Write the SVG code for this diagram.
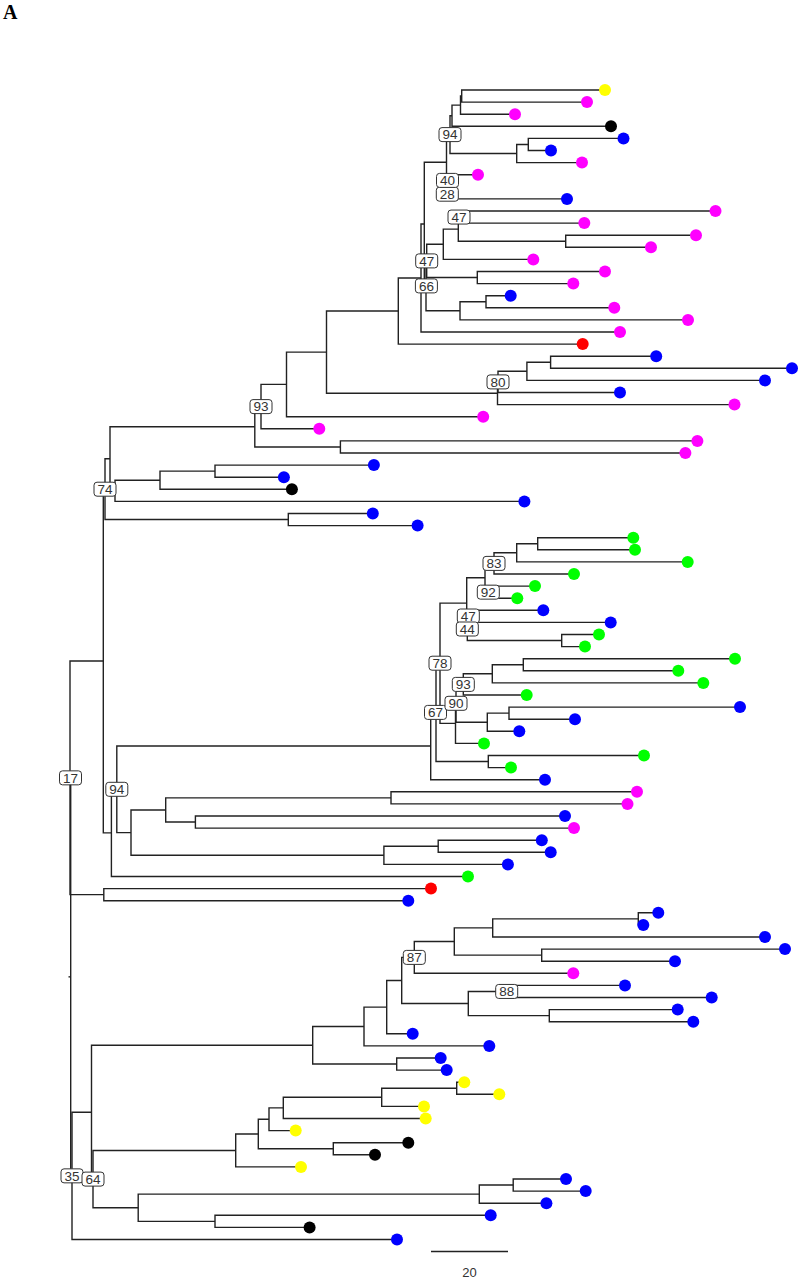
<svg xmlns="http://www.w3.org/2000/svg" width="801" height="1280" viewBox="0 0 801 1280">
<style>
.e{fill:none;stroke:#222;stroke-width:1.4}
.y{fill:#ffff00}.m{fill:#ff00ff}.b{fill:#0000ff}.k{fill:#000}.r{fill:#ff0000}.g{fill:#00ff00}
.lb rect{fill:#fff;stroke:#333;stroke-width:1}
.lb text{font-family:"Liberation Sans",Arial,sans-serif;font-size:13.5px;fill:#333;text-anchor:middle}
</style>
<rect width="801" height="1280" fill="#fff"/>
<text x="3" y="19" font-family="Liberation Serif,serif" font-weight="bold" font-size="20">A</text>
<g id="connectors" class="e">
<path d="M605 90H461.7V102.1H587"/>
<path d="M461.7 96.05H460.5V114.2H515"/>
<path d="M460.5 105.1H452V126.3H611"/>
<path d="M623.5 138.4H528.3V150.5H551"/>
<path d="M528.3 144.45H516.7V162.6H582"/>
<path d="M452 115.7H450V153.5H516.7"/>
<path d="M478 174.7H447.8V186.8"/>
<path d="M447.8 180.75H447.3V198.9H567"/>
<path d="M450 134.6H446.5V189.8H447.3"/>
<path d="M715.5 211H459V223.1H584.3"/>
<path d="M696 235.2H565.7V247.3H651"/>
<path d="M459 217.05H458.3V241.25H565.7"/>
<path d="M458.3 229.15H443.3V259.4H533.3"/>
<path d="M605 271.5H477.3V283.6H573.3"/>
<path d="M443.3 244.3H426.7V277.55H477.3"/>
<path d="M510.7 295.7H486V307.8H614.3"/>
<path d="M486 301.75H460V319.9H688"/>
<path d="M426.7 260.9H426V310.8H460"/>
<path d="M446.5 162.2H424.3V285.85H426"/>
<path d="M424.3 224H421V332H620"/>
<path d="M421 278H398.3V344.1H582.7"/>
<path d="M656.2 356.2H550.6V368.3H792"/>
<path d="M550.6 362.25H526.9V380.4H765"/>
<path d="M526.9 371.3H498V392.5H620"/>
<path d="M498 381.9H497.5V404.6H734.5"/>
<path d="M398.3 311.05H326.5V393.25H497.5"/>
<path d="M326.5 352.15H286.5V416.7H483.2"/>
<path d="M286.5 384.4H261V428.8H319.3"/>
<path d="M697.4 440.9H340.4V453H685.4"/>
<path d="M261 406.6H254.8V446.95H340.4"/>
<path d="M373.9 465.1H215V477.2H283.9"/>
<path d="M215 471.15H160V489.3H291.9"/>
<path d="M160 480.2H115V501.4H524.4"/>
<path d="M254.8 426.8H110V490.8H115"/>
<path d="M372.8 513.5H288.3V525.6H417.6"/>
<path d="M110 458.8H105V519.55H288.3"/>
<path d="M633.3 537.7H537.7V549.8H635"/>
<path d="M537.7 543.75H516.7V561.9H687.7"/>
<path d="M516.7 552.8H494V574H574"/>
<path d="M535 586.1H488.3V598.2H517.3"/>
<path d="M494 563.4H485V592.15H488.3"/>
<path d="M543.3 610.3H468.3V622.4H610.7"/>
<path d="M599 634.5H561.7V646.6H585"/>
<path d="M468.3 616.35H467.3V640.55H561.7"/>
<path d="M485 577.8H466.7V628.45H467.3"/>
<path d="M735 658.7H523.3V670.8H678.3"/>
<path d="M523.3 664.75H492.3V682.9H703.3"/>
<path d="M492.3 673.8H463.3V695H526.7"/>
<path d="M740 707.1H509V719.2H575"/>
<path d="M509 713.15H487.3V731.3H519.3"/>
<path d="M463.3 684.4H456V722.2H487.3"/>
<path d="M456 703.3H455.5V743.4H484"/>
<path d="M466.7 603.1H440V723.35H455.5"/>
<path d="M644 755.5H488.3V767.6H511"/>
<path d="M440 663.2H436V761.55H488.3"/>
<path d="M436 712.4H430.7V779.7H545"/>
<path d="M637 791.8H391V803.9H627.5"/>
<path d="M565 816H195.4V828.1H574"/>
<path d="M391 797.85H165.7V822.05H195.4"/>
<path d="M541.8 840.2H438.2V852.3H550.7"/>
<path d="M438.2 846.25H383.9V864.4H507.9"/>
<path d="M165.7 809.95H131V855.3H383.9"/>
<path d="M430.7 746.05H116.8V832.6H131"/>
<path d="M116.8 789.3H111.4V876.5H468"/>
<path d="M105 489.2H103.3V832.9H111.4"/>
<path d="M431 888.6H103.8V900.7H408.3"/>
<path d="M103.3 661.05H70V894.65H103.8"/>
<path d="M658.3 912.8H638.3V924.9H643.3"/>
<path d="M638.3 918.85H492.7V937H765"/>
<path d="M785 949.1H541.7V961.2H675"/>
<path d="M492.7 927.9H454.3V955.15H541.7"/>
<path d="M454.3 941.5H414.3V973.3H573.3"/>
<path d="M625 985.4H506.7V997.5H711.7"/>
<path d="M677.7 1009.6H549.3V1021.7H693.3"/>
<path d="M506.7 991.45H468.3V1015.65H549.3"/>
<path d="M414.3 957.4H401.7V1003.55H468.3"/>
<path d="M401.7 980.5H386.7V1033.8H412.7"/>
<path d="M386.7 1007.15H364V1045.9H489.3"/>
<path d="M440.7 1058H396.7V1070.1H446.7"/>
<path d="M364 1026.5H312.7V1064.05H396.7"/>
<path d="M464.3 1082.2H456.7V1094.3H499.3"/>
<path d="M456.7 1088.25H381.7V1106.4H424"/>
<path d="M381.7 1097.3H283.3V1118.5H425.7"/>
<path d="M283.3 1107.9H269V1130.6H295.7"/>
<path d="M408.3 1142.7H333.3V1154.8H375"/>
<path d="M269 1119.25H258.3V1148.75H333.3"/>
<path d="M258.3 1134H235.7V1166.9H301"/>
<path d="M566 1179H513.2V1191.1H585.7"/>
<path d="M513.2 1185.05H479.3V1203.2H546.4"/>
<path d="M490.7 1215.3H215V1227.4H309.6"/>
<path d="M479.3 1194.1H138.2V1221.35H215"/>
<path d="M235.7 1150.45H93V1207.7H138.2"/>
<path d="M312.7 1045.3H91.5V1179.1H93"/>
<path d="M91.5 1112.2H72V1239.5H397"/>
<path d="M70 777.85H70.7V1175.85H72"/>
<path d="M68.5 976.85H70.7"/>
</g>
<g id="tips">
<circle id="t0" class="y" cx="605" cy="90" r="6"/>
<circle id="t1" class="m" cx="587" cy="102.1" r="6"/>
<circle id="t2" class="m" cx="515" cy="114.2" r="6"/>
<circle id="t3" class="k" cx="611" cy="126.3" r="6"/>
<circle id="t4" class="b" cx="623.5" cy="138.4" r="6"/>
<circle id="t5" class="b" cx="551" cy="150.5" r="6"/>
<circle id="t6" class="m" cx="582" cy="162.6" r="6"/>
<circle id="t7" class="m" cx="478" cy="174.7" r="6"/>
<circle id="t9" class="b" cx="567" cy="198.9" r="6"/>
<circle id="t10" class="m" cx="715.5" cy="211" r="6"/>
<circle id="t11" class="m" cx="584.3" cy="223.1" r="6"/>
<circle id="t12" class="m" cx="696" cy="235.2" r="6"/>
<circle id="t13" class="m" cx="651" cy="247.3" r="6"/>
<circle id="t14" class="m" cx="533.3" cy="259.4" r="6"/>
<circle id="t15" class="m" cx="605" cy="271.5" r="6"/>
<circle id="t16" class="m" cx="573.3" cy="283.6" r="6"/>
<circle id="t17" class="b" cx="510.7" cy="295.7" r="6"/>
<circle id="t18" class="m" cx="614.3" cy="307.8" r="6"/>
<circle id="t19" class="m" cx="688" cy="319.9" r="6"/>
<circle id="t20" class="m" cx="620" cy="332" r="6"/>
<circle id="t21" class="r" cx="582.7" cy="344.1" r="6"/>
<circle id="t22" class="b" cx="656.2" cy="356.2" r="6"/>
<circle id="t23" class="b" cx="792" cy="368.3" r="6"/>
<circle id="t24" class="b" cx="765" cy="380.4" r="6"/>
<circle id="t25" class="b" cx="620" cy="392.5" r="6"/>
<circle id="t26" class="m" cx="734.5" cy="404.6" r="6"/>
<circle id="t27" class="m" cx="483.2" cy="416.7" r="6"/>
<circle id="t28" class="m" cx="319.3" cy="428.8" r="6"/>
<circle id="t29" class="m" cx="697.4" cy="440.9" r="6"/>
<circle id="t30" class="m" cx="685.4" cy="453" r="6"/>
<circle id="t31" class="b" cx="373.9" cy="465.1" r="6"/>
<circle id="t32" class="b" cx="283.9" cy="477.2" r="6"/>
<circle id="t33" class="k" cx="291.9" cy="489.3" r="6"/>
<circle id="t34" class="b" cx="524.4" cy="501.4" r="6"/>
<circle id="t35" class="b" cx="372.8" cy="513.5" r="6"/>
<circle id="t36" class="b" cx="417.6" cy="525.6" r="6"/>
<circle id="t37" class="g" cx="633.3" cy="537.7" r="6"/>
<circle id="t38" class="g" cx="635" cy="549.8" r="6"/>
<circle id="t39" class="g" cx="687.7" cy="561.9" r="6"/>
<circle id="t40" class="g" cx="574" cy="574" r="6"/>
<circle id="t41" class="g" cx="535" cy="586.1" r="6"/>
<circle id="t42" class="g" cx="517.3" cy="598.2" r="6"/>
<circle id="t43" class="b" cx="543.3" cy="610.3" r="6"/>
<circle id="t44" class="b" cx="610.7" cy="622.4" r="6"/>
<circle id="t45" class="g" cx="599" cy="634.5" r="6"/>
<circle id="t46" class="g" cx="585" cy="646.6" r="6"/>
<circle id="t47" class="g" cx="735" cy="658.7" r="6"/>
<circle id="t48" class="g" cx="678.3" cy="670.8" r="6"/>
<circle id="t49" class="g" cx="703.3" cy="682.9" r="6"/>
<circle id="t50" class="g" cx="526.7" cy="695" r="6"/>
<circle id="t51" class="b" cx="740" cy="707.1" r="6"/>
<circle id="t52" class="b" cx="575" cy="719.2" r="6"/>
<circle id="t53" class="b" cx="519.3" cy="731.3" r="6"/>
<circle id="t54" class="g" cx="484" cy="743.4" r="6"/>
<circle id="t55" class="g" cx="644" cy="755.5" r="6"/>
<circle id="t56" class="g" cx="511" cy="767.6" r="6"/>
<circle id="t57" class="b" cx="545" cy="779.7" r="6"/>
<circle id="t58" class="m" cx="637" cy="791.8" r="6"/>
<circle id="t59" class="m" cx="627.5" cy="803.9" r="6"/>
<circle id="t60" class="b" cx="565" cy="816" r="6"/>
<circle id="t61" class="m" cx="574" cy="828.1" r="6"/>
<circle id="t62" class="b" cx="541.8" cy="840.2" r="6"/>
<circle id="t63" class="b" cx="550.7" cy="852.3" r="6"/>
<circle id="t64" class="b" cx="507.9" cy="864.4" r="6"/>
<circle id="t65" class="g" cx="468" cy="876.5" r="6"/>
<circle id="t66" class="r" cx="431" cy="888.6" r="6"/>
<circle id="t67" class="b" cx="408.3" cy="900.7" r="6"/>
<circle id="t68" class="b" cx="658.3" cy="912.8" r="6"/>
<circle id="t69" class="b" cx="643.3" cy="924.9" r="6"/>
<circle id="t70" class="b" cx="765" cy="937" r="6"/>
<circle id="t71" class="b" cx="785" cy="949.1" r="6"/>
<circle id="t72" class="b" cx="675" cy="961.2" r="6"/>
<circle id="t73" class="m" cx="573.3" cy="973.3" r="6"/>
<circle id="t74" class="b" cx="625" cy="985.4" r="6"/>
<circle id="t75" class="b" cx="711.7" cy="997.5" r="6"/>
<circle id="t76" class="b" cx="677.7" cy="1009.6" r="6"/>
<circle id="t77" class="b" cx="693.3" cy="1021.7" r="6"/>
<circle id="t78" class="b" cx="412.7" cy="1033.8" r="6"/>
<circle id="t79" class="b" cx="489.3" cy="1045.9" r="6"/>
<circle id="t80" class="b" cx="440.7" cy="1058" r="6"/>
<circle id="t81" class="b" cx="446.7" cy="1070.1" r="6"/>
<circle id="t82" class="y" cx="464.3" cy="1082.2" r="6"/>
<circle id="t83" class="y" cx="499.3" cy="1094.3" r="6"/>
<circle id="t84" class="y" cx="424" cy="1106.4" r="6"/>
<circle id="t85" class="y" cx="425.7" cy="1118.5" r="6"/>
<circle id="t86" class="y" cx="295.7" cy="1130.6" r="6"/>
<circle id="t87" class="k" cx="408.3" cy="1142.7" r="6"/>
<circle id="t88" class="k" cx="375" cy="1154.8" r="6"/>
<circle id="t89" class="y" cx="301" cy="1166.9" r="6"/>
<circle id="t90" class="b" cx="566" cy="1179" r="6"/>
<circle id="t91" class="b" cx="585.7" cy="1191.1" r="6"/>
<circle id="t92" class="b" cx="546.4" cy="1203.2" r="6"/>
<circle id="t93" class="b" cx="490.7" cy="1215.3" r="6"/>
<circle id="t94" class="k" cx="309.6" cy="1227.4" r="6"/>
<circle id="t95" class="b" cx="397" cy="1239.5" r="6"/>
</g>
<g id="n94a" class="lb" transform="translate(450 134.6)"><rect x="-11" y="-7" width="22" height="14" rx="3"/><text y="4.8">94</text></g>
<g id="n28" class="lb" transform="translate(447.3 194.2)"><rect x="-11" y="-7" width="22" height="14" rx="3"/><text y="4.8">28</text></g>
<g id="n40" class="lb" transform="translate(447.5 180.4)"><rect x="-11" y="-7" width="22" height="14" rx="3"/><text y="4.8">40</text></g>
<g id="n47a" class="lb" transform="translate(459 217.05)"><rect x="-11" y="-7" width="22" height="14" rx="3"/><text y="4.8">47</text></g>
<g id="n47b" class="lb" transform="translate(426.7 260.9)"><rect x="-11" y="-7" width="22" height="14" rx="3"/><text y="4.8">47</text></g>
<g id="n66" class="lb" transform="translate(426.4 285.9)"><rect x="-11" y="-7" width="22" height="14" rx="3"/><text y="4.8">66</text></g>
<g id="n80" class="lb" transform="translate(498 381.9)"><rect x="-11" y="-7" width="22" height="14" rx="3"/><text y="4.8">80</text></g>
<g id="n93a" class="lb" transform="translate(261 406.6)"><rect x="-11" y="-7" width="22" height="14" rx="3"/><text y="4.8">93</text></g>
<g id="n74" class="lb" transform="translate(105 489.2)"><rect x="-11" y="-7" width="22" height="14" rx="3"/><text y="4.8">74</text></g>
<g id="n83" class="lb" transform="translate(494 563.4)"><rect x="-11" y="-7" width="22" height="14" rx="3"/><text y="4.8">83</text></g>
<g id="n92" class="lb" transform="translate(488.3 592.15)"><rect x="-11" y="-7" width="22" height="14" rx="3"/><text y="4.8">92</text></g>
<g id="n47c" class="lb" transform="translate(468.3 616)"><rect x="-11" y="-7" width="22" height="14" rx="3"/><text y="4.8">47</text></g>
<g id="n44" class="lb" transform="translate(467.3 629)"><rect x="-11" y="-7" width="22" height="14" rx="3"/><text y="4.8">44</text></g>
<g id="n78" class="lb" transform="translate(440 663.2)"><rect x="-11" y="-7" width="22" height="14" rx="3"/><text y="4.8">78</text></g>
<g id="n93b" class="lb" transform="translate(463.3 684.4)"><rect x="-11" y="-7" width="22" height="14" rx="3"/><text y="4.8">93</text></g>
<g id="n67" class="lb" transform="translate(435.5 712.4)"><rect x="-11" y="-7" width="22" height="14" rx="3"/><text y="4.8">67</text></g>
<g id="n90" class="lb" transform="translate(456 703.3)"><rect x="-11" y="-7" width="22" height="14" rx="3"/><text y="4.8">90</text></g>
<g id="n94b" class="lb" transform="translate(116.8 789.3)"><rect x="-11" y="-7" width="22" height="14" rx="3"/><text y="4.8">94</text></g>
<g id="n17" class="lb" transform="translate(70.5 777.85)"><rect x="-11" y="-7" width="22" height="14" rx="3"/><text y="4.8">17</text></g>
<g id="n87" class="lb" transform="translate(414.3 957.4)"><rect x="-11" y="-7" width="22" height="14" rx="3"/><text y="4.8">87</text></g>
<g id="n88" class="lb" transform="translate(506.7 991.45)"><rect x="-11" y="-7" width="22" height="14" rx="3"/><text y="4.8">88</text></g>
<g id="n35" class="lb" transform="translate(72 1175.85)"><rect x="-11" y="-7" width="22" height="14" rx="3"/><text y="4.8">35</text></g>
<g id="n64" class="lb" transform="translate(93 1179.1)"><rect x="-11" y="-7" width="22" height="14" rx="3"/><text y="4.8">64</text></g>
<g id="scalebar">
<path class="e" d="M431 1251.5H508"/>
<text x="469.5" y="1277" font-family="Liberation Sans,Arial,sans-serif" font-size="13" fill="#333" text-anchor="middle">20</text>
</g>
</svg>
